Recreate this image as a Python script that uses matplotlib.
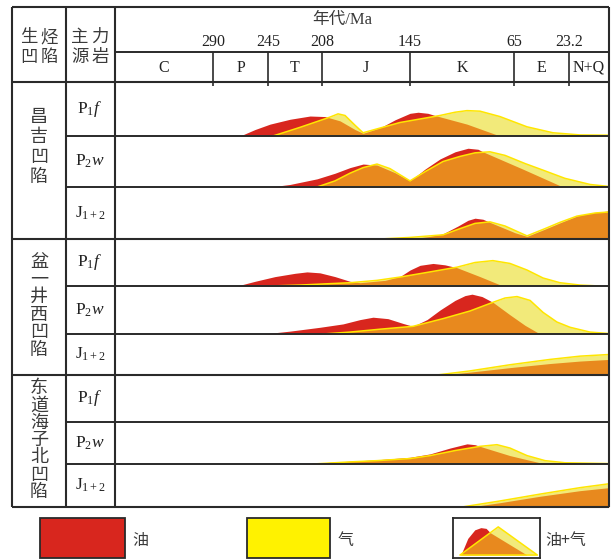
import numpy as np
import matplotlib
matplotlib.use('Agg')
import matplotlib.pyplot as plt
from matplotlib.patches import Rectangle

plt.rcParams.update({'font.family': ['Liberation Serif', 'Noto Sans CJK SC'],
                     'mathtext.fontset': 'custom',
                     'mathtext.rm': 'Liberation Serif',
                     'mathtext.it': 'Liberation Serif:italic',
                     })
CJK = ['Noto Sans CJK SC', 'DejaVu Sans']

# time scale (Ma)
bound_ages = [360, 290, 245, 208, 145, 65, 23.2, 0]
bound_labels = ['290', '245', '208', '145', '65', '23.2']
periods = ['C', 'P', 'T', 'J', 'K', 'E', 'N+Q']

basins = ['昌吉凹陷', '盆一井西凹陷', '东道海子北凹陷']
sources = [r'$\mathrm{P}_1\mathit{f}$', r'$\mathrm{P}_2\mathit{w}$', r'$\mathrm{J}_{1+2}$']

# oil / gas generation curves: age (Ma) and relative intensity, one entry per row
oil_age = [
    [267.9, 255.6, 243.6, 229.9, 216.2, 205.9, 195.1, 184.4, 178.6, 166.5, 155.7, 145, 138.8, 131.2, 125.8, 101.2, 75.8],
    [243.6, 229.9, 211.4, 198.7, 188, 178.6, 168.6, 155.7, 145, 133.5, 121.9, 110.4, 100.4, 92.7, 88.9, 58.2, 27.8],
    [145, 129.6, 119.6, 108.1, 100.4, 95, 88.9, 83.5, 75.8, 64.2, 55.1, 41.4, 30.1, 18.6, 8.1, 0],
    [270.4, 255.6, 240.2, 226.5, 218.3, 209.4, 198.7, 188, 180.8, 162.9, 152.2, 145, 137.3, 127.3, 118.1, 108.9, 91.2, 73.5],
    [249.1, 229.9, 209.4, 193, 180.8, 171.5, 160.8, 150, 142.7, 131.9, 121.9, 110.4, 102.7, 97.3, 89.6, 81.2, 68.1, 56.6, 45.2],
    [119.6, 98.8, 68.1, 37.6, 16.8, 0],
    [],
    [223.1, 202.3, 168.6, 145, 129.6, 114.2, 101.2, 95, 91.2, 68.1, 41.4],
    [98.8, 75.8, 45.2, 16.8, 0],
]
oil_val = [
    [0, 0.12, 0.22, 0.31, 0.37, 0.36, 0.28, 0.12, 0.05, 0.15, 0.30, 0.42, 0.44, 0.42, 0.38, 0.22, 0],
    [0, 0.05, 0.16, 0.27, 0.38, 0.45, 0.43, 0.28, 0.12, 0.35, 0.55, 0.69, 0.76, 0.74, 0.69, 0.35, 0],
    [0, 0.05, 0.10, 0.25, 0.36, 0.40, 0.38, 0.32, 0.24, 0.12, 0.05, 0.19, 0.31, 0.44, 0.51, 0.54],
    [0, 0.10, 0.20, 0.27, 0.30, 0.28, 0.20, 0.10, 0.07, 0.12, 0.20, 0.34, 0.44, 0.48, 0.45, 0.39, 0.20, 0],
    [0, 0.06, 0.14, 0.21, 0.30, 0.35, 0.32, 0.22, 0.16, 0.30, 0.50, 0.70, 0.80, 0.83, 0.78, 0.66, 0.40, 0.18, 0],
    [0, 0.07, 0.18, 0.28, 0.34, 0.38],
    [],
    [0, 0.04, 0.10, 0.16, 0.24, 0.38, 0.48, 0.46, 0.42, 0.20, 0],
    [0, 0.10, 0.25, 0.38, 0.45],
]
gas_age = [
    [241.6, 223.1, 202.3, 196.5, 191.5, 184.4, 178.6, 152.2, 121.9, 110.4, 101.2, 91.2, 75.8, 55.1, 35.4, 16.8, 0],
    [211.4, 198.7, 188, 178.6, 168.6, 159.3, 145, 133.5, 119.6, 106.5, 95, 83.5, 71.9, 56.6, 42.9, 26.3, 11, 0],
    [166.5, 145, 119.6, 106.5, 95, 83.5, 71.9, 60.4, 55.1, 41.4, 30.1, 18.6, 8.1, 0],
    [243.6, 223.1, 202.3, 188, 168.6, 152.2, 129.6, 108.9, 95, 81.2, 68.1, 55.1, 42.9, 30.1, 16.8, 5.2],
    [207.3, 188, 166.5, 142.7, 119.6, 98.8, 81.2, 71.9, 62.7, 52.8, 42.9, 32.4, 22.6, 11, 0],
    [124.2, 98.8, 68.1, 37.6, 16.8, 0],
    [],
    [214.2, 188, 168.6, 145, 129.6, 110.4, 91.2, 78.1, 68.1, 55.1, 41.4, 26.3, 0],
    [105, 75.8, 45.2, 16.8, 0],
]
gas_val = [
    [0, 0.16, 0.35, 0.41, 0.38, 0.20, 0.06, 0.25, 0.38, 0.44, 0.47, 0.46, 0.36, 0.17, 0.06, 0.02, 0.015],
    [0, 0.12, 0.27, 0.38, 0.45, 0.36, 0.12, 0.30, 0.50, 0.60, 0.67, 0.69, 0.62, 0.46, 0.33, 0.17, 0.05, 0.01],
    [0, 0.03, 0.08, 0.20, 0.30, 0.33, 0.25, 0.12, 0.06, 0.20, 0.32, 0.44, 0.50, 0.52],
    [0, 0.02, 0.05, 0.07, 0.12, 0.19, 0.30, 0.40, 0.50, 0.54, 0.48, 0.34, 0.17, 0.07, 0.02, 0],
    [0, 0.04, 0.10, 0.16, 0.32, 0.48, 0.66, 0.75, 0.78, 0.70, 0.45, 0.25, 0.14, 0.04, 0.01],
    [0, 0.10, 0.25, 0.38, 0.46, 0.50],
    [],
    [0, 0.05, 0.08, 0.13, 0.20, 0.32, 0.42, 0.46, 0.38, 0.20, 0.08, 0.03, 0.01],
    [0, 0.14, 0.30, 0.45, 0.54],
]

# legend sample shape
leg_oil_x = [0.09, 0.17, 0.25, 0.32, 0.38, 0.43, 0.85]
leg_oil_h = [0, 0.45, 0.68, 0.74, 0.72, 0.60, 0]
leg_gas_x = [0.08, 0.52, 0.97]
leg_gas_h = [0, 0.76, 0]

OIL = '#d8261e'
GAS = '#f2ea7a'
MIX = '#e8891e'
GAS_LINE = '#ffe600'
YEL = '#fff200'
LC = '#2a2a2a'
TC = '#3a3a3a'

W, H = 616, 560
fig = plt.figure(figsize=(W / 100, H / 100), dpi=100)


def px_axes(x0, y0, x1, y1, **kw):
    return fig.add_axes([x0 / W, 1 - y1 / H, (x1 - x0) / W, (y1 - y0) / H], **kw)


# schematic (non-linear) time axis, distance of each boundary from the present (px)
bound_pos = [494, 396, 341, 287, 199, 95, 40, 0]


def fwd(a):
    return np.interp(a, bound_ages[::-1], bound_pos[::-1])


def inv(p):
    return np.interp(p, bound_pos[::-1], bound_ages[::-1])


def draw_hc(ax, ox, oh, gx, gh):
    if len(ox):
        ax.fill_between(ox, 0, oh, color=OIL, lw=0)
    if len(gx):
        gas = ax.fill_between(gx, 0, gh, color=GAS, lw=0)
        if len(ox):
            mix = ax.fill_between(ox, 0, oh, color=MIX, lw=0)
            mix.set_clip_path(gas.get_paths()[0], gas.get_transform())
        ax.fill_between(gx, 0, gh, facecolor='none', edgecolor=GAS_LINE, lw=1.1)


x0, xc1, xc2, x1 = 12, 66, 115, 609
y_top, y_mid, y_head = 7, 52, 82
row_edges = [82, 136, 187, 239, 286, 334, 375, 422, 464, 507]

# header with time scale
hax = px_axes(xc2, y_top, x1, y_head)
hax.set_xscale('function', functions=(fwd, inv))
hax.set_xlim(360, 0)
hax.set_ylim(y_head, y_top)
hax.axis('off')
hax.vlines(bound_ages[1:-1], y_mid, y_head + 4, color=LC, lw=1.2, clip_on=False)
for a, lab in zip(bound_ages[1:-1], bound_labels):
    hax.text(a, 42, lab, ha='center', va='center', fontsize=11.5, color='#222')
for i, p in enumerate(periods):
    mid = inv((fwd(bound_ages[i]) + fwd(bound_ages[i + 1])) / 2)
    hax.text(mid, 68, p, ha='center', va='center', fontsize=11.5, color='#222')

# curve panels
for i in range(9):
    ax = px_axes(xc2, row_edges[i], x1, row_edges[i + 1])
    ax.set_xscale('function', functions=(fwd, inv))
    ax.set_xlim(360, 0)
    ax.set_ylim(0, 1)
    ax.axis('off')
    draw_hc(ax, oil_age[i], oil_val[i], gas_age[i], gas_val[i])

# table frame and labels
tab = px_axes(0, 0, W, H, zorder=5)
tab.set_xlim(0, W)
tab.set_ylim(H, 0)
tab.axis('off')
tab.hlines([y_top, y_head, row_edges[3], row_edges[6], row_edges[9]], x0, x1, color=LC, lw=1.5)
tab.hlines(y_mid, xc2, x1, color=LC, lw=1.4)
tab.hlines([row_edges[k] for k in (1, 2, 4, 5, 7, 8)], xc1, x1, color=LC, lw=1.4)
tab.vlines([x0, xc1, xc2, x1], y_top, row_edges[-1], color=LC, lw=1.5)

tab.text(342, 20, '年代/Ma', ha='center', va='center', fontsize=12, color=TC)
head_chars = [('生', 29, 37), ('烃', 49, 37), ('凹', 29, 57), ('陷', 49, 57),
              ('主', 80, 37), ('力', 100, 37), ('源', 80, 57), ('岩', 100, 57)]
for ch, hx, hy in head_chars:
    tab.text(hx, hy, ch, ha='center', va='center', fontsize=12.5, family=CJK, color=TC)

group_center = [147, 306, 440]
group_step = [20, 17.5, 17.3]
for g, name in enumerate(basins):
    n = len(name)
    for k, ch in enumerate(name):
        y = group_center[g] + (k - (n - 1) / 2) * group_step[g]
        tab.text(39, y, ch, ha='center', va='center', fontsize=13, family=CJK, color=TC)
    for s, src in enumerate(sources):
        r = g * 3 + s
        yc = (row_edges[r] + row_edges[r + 1]) / 2
        tab.text(90, yc, src, ha='center', va='center', fontsize=12.5, color='#222')

# legend
tab.add_patch(Rectangle((40, 518), 85, 40, facecolor=OIL, edgecolor=LC, lw=1.3))
tab.text(132, 541, '油', va='center', fontsize=11.5, family=CJK, color=TC)
tab.add_patch(Rectangle((247, 518), 83, 40, facecolor=YEL, edgecolor=LC, lw=1.3))
tab.text(338, 541, '气', va='center', fontsize=11.5, family=CJK, color=TC)
tab.text(545, 541, '油+气', va='center', fontsize=11.5, family=CJK, color=TC)

lax = px_axes(453, 518, 540, 558)
lax.set_xlim(0, 1)
lax.set_ylim(-0.08, 1)
lax.set_xticks([])
lax.set_yticks([])
for sp in lax.spines.values():
    sp.set_color(LC)
    sp.set_linewidth(1.3)
draw_hc(lax, leg_oil_x, leg_oil_h, leg_gas_x, leg_gas_h)

fig.savefig('out.png', dpi=100)
